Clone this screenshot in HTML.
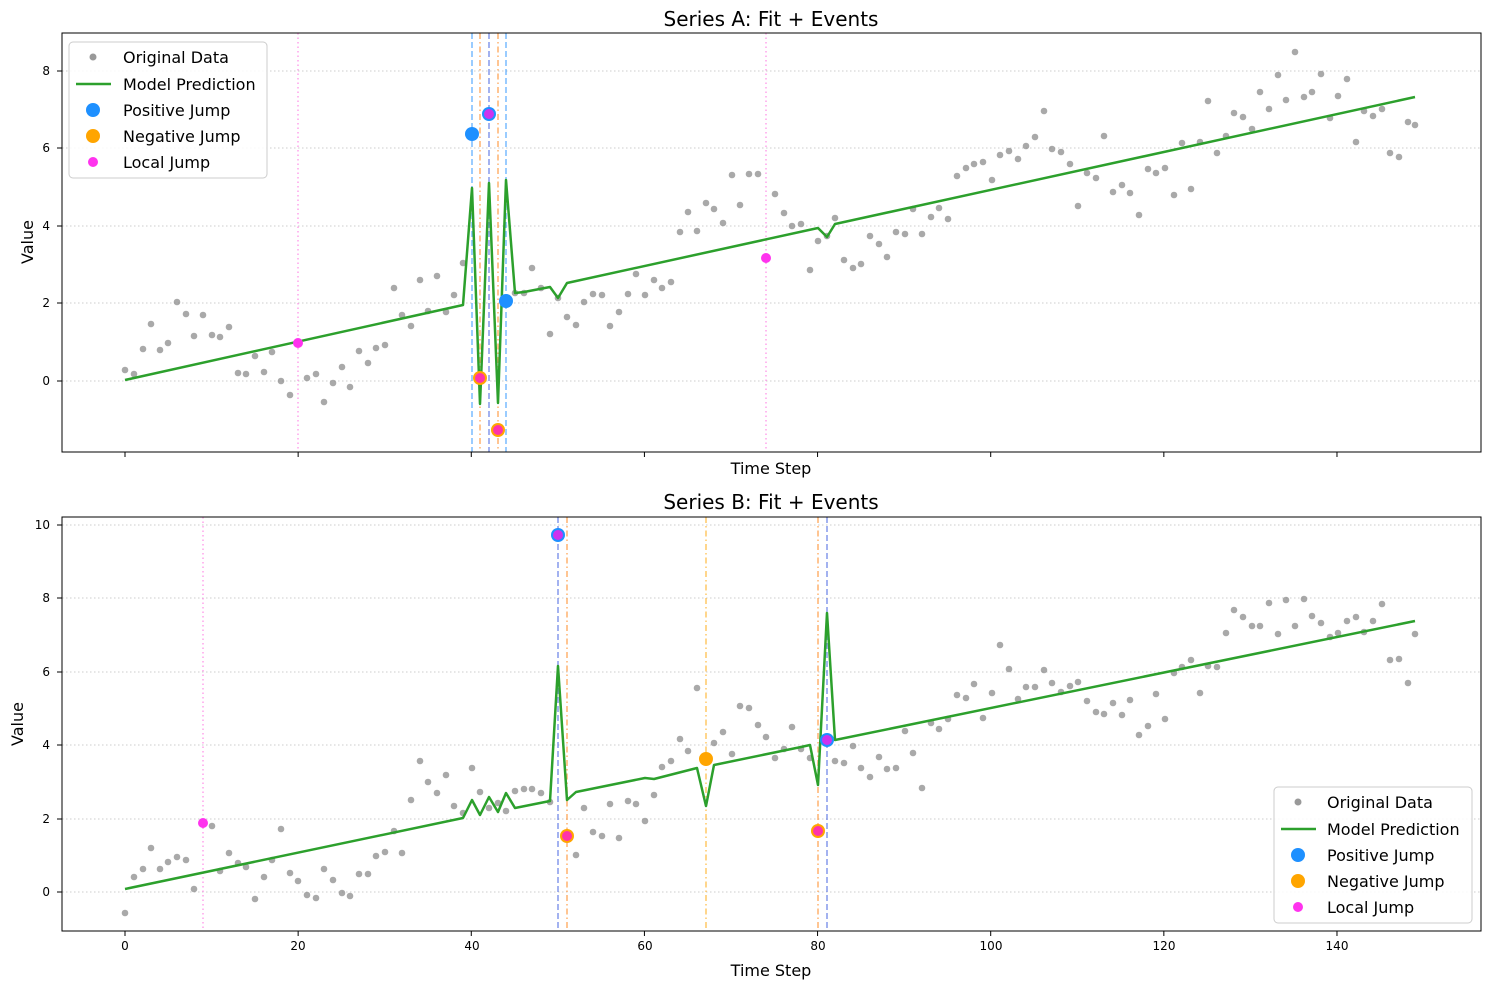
<!DOCTYPE html>
<html><head><meta charset="utf-8"><style>
body{margin:0;background:#fff;}
svg{display:block;font-family:"DejaVu Sans","Liberation Sans",sans-serif;}
</style></head><body>
<svg id="s" width="1489" height="989" viewBox="0 0 1489 989" xmlns="http://www.w3.org/2000/svg">
<rect width="1489" height="989" fill="#fff"/>
<g id="g1"></g>
<!-- titles & labels -->
<text x="771" y="26" font-size="20" text-anchor="middle">Series A: Fit + Events</text>
<text x="771" y="509" font-size="20" text-anchor="middle">Series B: Fit + Events</text>
<text x="771" y="474" font-size="16" text-anchor="middle">Time Step</text>
<text x="771" y="976" font-size="16" text-anchor="middle">Time Step</text>
<text transform="translate(33,242) rotate(-90)" font-size="16" text-anchor="middle">Value</text>
<text transform="translate(23,724) rotate(-90)" font-size="16" text-anchor="middle">Value</text>
<g font-size="12" text-anchor="end">
<text x="50" y="385">0</text><text x="50" y="307">2</text><text x="50" y="230">4</text><text x="50" y="152">6</text><text x="50" y="75">8</text>
<text x="50" y="896">0</text><text x="50" y="823">2</text><text x="50" y="749">4</text><text x="50" y="676">6</text><text x="50" y="602">8</text><text x="50" y="529">10</text>
</g>
<g font-size="12" text-anchor="middle">
<text x="125" y="950">0</text><text x="298" y="950">20</text><text x="472" y="950">40</text><text x="645" y="950">60</text><text x="818" y="950">80</text><text x="991" y="950">100</text><text x="1164" y="950">120</text><text x="1337" y="950">140</text>
</g>
<!-- legends -->
<g>
<rect x="69" y="42" width="198" height="136" rx="4" fill="#fff" fill-opacity="0.85" stroke="#ccc"/>
<circle cx="93" cy="57" r="3.5" fill="#999"/><text x="123" y="63" font-size="16">Original Data</text>
<line x1="76" y1="84" x2="111" y2="84" stroke="#2ca02c" stroke-width="2.5"/><text x="123" y="90" font-size="16">Model Prediction</text>
<circle cx="93" cy="110" r="7" fill="#1e90ff"/><text x="123" y="116" font-size="16">Positive Jump</text>
<circle cx="93" cy="136" r="7" fill="#ffa500"/><text x="123" y="142" font-size="16">Negative Jump</text>
<circle cx="93" cy="162" r="5" fill="#ff33ee"/><text x="123" y="168" font-size="16">Local Jump</text>
</g>
<g>
<rect x="1274" y="787" width="198" height="136" rx="4" fill="#fff" fill-opacity="0.85" stroke="#ccc"/>
<circle cx="1298" cy="802" r="3.5" fill="#999"/><text x="1327" y="808" font-size="16">Original Data</text>
<line x1="1281" y1="829" x2="1316" y2="829" stroke="#2ca02c" stroke-width="2.5"/><text x="1327" y="835" font-size="16">Model Prediction</text>
<circle cx="1298" cy="855" r="7" fill="#1e90ff"/><text x="1327" y="861" font-size="16">Positive Jump</text>
<circle cx="1298" cy="881" r="7" fill="#ffa500"/><text x="1327" y="887" font-size="16">Negative Jump</text>
<circle cx="1298" cy="907" r="5" fill="#ff33ee"/><text x="1327" y="913" font-size="16">Local Jump</text>
</g>
</svg>
<script>
var NS="http://www.w3.org/2000/svg",g=document.getElementById('g1');
function el(t,a){var e=document.createElementNS(NS,t);for(var k in a)e.setAttribute(k,a[k]);g.appendChild(e);return e;}
var X=function(t){return 125+8.657*t;};
// grids
[381,303,226,148,71].forEach(function(y){el('line',{x1:62,x2:1481,y1:y,y2:y,stroke:'#ccc','stroke-dasharray':'1.5,2.5','stroke-width':1});});
[892,819,745,672,598,525].forEach(function(y){el('line',{x1:62,x2:1481,y1:y,y2:y,stroke:'#ccc','stroke-dasharray':'1.5,2.5','stroke-width':1});});
// ticks
[0,20,40,60,80,100,120,140].forEach(function(t){var x=X(t);el('line',{x1:x,x2:x,y1:452,y2:457,stroke:'#000'});el('line',{x1:x,x2:x,y1:931,y2:936,stroke:'#000'});});
[381,303,226,148,71].forEach(function(y){el('line',{x1:57,x2:62,y1:y,y2:y,stroke:'#000'});});
[892,819,745,672,598,525].forEach(function(y){el('line',{x1:57,x2:62,y1:y,y2:y,stroke:'#000'});});
// vlines
function vl(x,y1,y2,c,d){el('line',{x1:x,x2:x,y1:y1,y2:y2,stroke:c,'stroke-dasharray':d,'stroke-width':1.5,'stroke-opacity':0.6});}
var DASH='6,3',DD='6,3,1.5,3',DOT='1.5,3';
vl(298,33,452,'#ff66dd',DOT);vl(766,33,452,'#ff66dd',DOT);
vl(472,33,452,'#1e90ff',DASH);vl(489,33,452,'#3355dd',DASH);vl(506,33,452,'#1e90ff',DASH);
vl(480,33,452,'#ff7f0e',DD);vl(498,33,452,'#ff7f0e',DD);
vl(203,517,931,'#ff66dd',DOT);vl(558,517,931,'#3355dd',DASH);vl(827,517,931,'#3355dd',DASH);
vl(567,517,931,'#ff7f0e',DD);vl(818,517,931,'#ff7f0e',DD);vl(706,517,931,'#ffa500',DD);
// dots
var A=[[125,370],[134,374],[143,349],[151,324],[160,350],[168,343],[177,302],[186,314],[194,336],[203,315],[212,335],[220,337],[229,327],[238,373],[246,374],[255,356],[264,372],[272,352],[281,381],[290,395],[307,378],[316,374],[324,402],[333,383],[342,367],[350,387],[359,351],[368,363],[376,348],[385,345],[394,288],[402,315],[411,326],[420,280],[428,311],[437,276],[446,312],[454,295],[463,263],[515,293],[524,293],[532,268],[541,288],[550,334],[558,298],[567,317],[576,325],[584,302],[593,294],[602,295],[610,326],[619,312],[628,294],[636,274],[645,295],[654,280],[662,288],[671,282],[680,232],[688,212],[697,231],[706,203],[714,209],[723,223],[732,175],[740,205],[749,174],[758,174],[775,194],[784,213],[792,226],[801,224],[810,270],[818,241],[827,236],[835,218],[844,260],[853,268],[861,264],[870,236],[879,244],[887,257],[896,232],[905,234],[913,209],[922,234],[931,217],[939,208],[948,219],[957,176],[966,168],[974,164],[983,162],[992,180],[1000,155],[1009,151],[1018,159],[1026,146],[1035,137],[1044,111],[1052,149],[1061,152],[1070,164],[1078,206],[1087,173],[1096,178],[1104,136],[1113,192],[1122,185],[1130,193],[1139,215],[1148,169],[1156,173],[1165,168],[1174,195],[1182,143],[1191,189],[1200,142],[1208,101],[1217,153],[1226,136],[1234,113],[1243,117],[1252,129],[1260,92],[1269,109],[1278,75],[1286,100],[1295,52],[1304,97],[1312,92],[1321,74],[1330,118],[1338,96],[1347,79],[1356,142],[1364,111],[1373,116],[1382,109],[1390,153],[1399,157],[1408,122],[1415,125]];
var B=[[125,913],[134,877],[143,869],[151,848],[160,869],[168,862],[177,857],[186,860],[194,889],[212,826],[220,871],[229,853],[238,863],[246,867],[255,899],[264,877],[272,860],[281,829],[290,873],[298,881],[307,895],[316,898],[324,869],[333,880],[342,893],[350,896],[359,874],[368,874],[376,856],[385,852],[394,831],[402,853],[411,800],[420,761],[428,782],[437,793],[446,775],[454,806],[463,813],[472,768],[480,792],[489,808],[498,803],[506,811],[515,791],[524,789],[532,789],[541,793],[550,802],[576,855],[584,808],[593,832],[602,836],[610,804],[619,838],[628,801],[636,804],[645,821],[654,795],[662,767],[671,761],[680,739],[688,751],[697,688],[714,743],[723,732],[732,754],[740,706],[749,708],[758,725],[766,737],[775,758],[784,749],[792,727],[801,749],[810,758],[835,761],[844,763],[853,746],[861,768],[870,777],[879,757],[887,769],[896,768],[905,731],[913,753],[922,788],[931,723],[939,729],[948,719],[957,695],[966,698],[974,684],[983,718],[992,693],[1000,645],[1009,669],[1018,699],[1026,687],[1035,687],[1044,670],[1052,683],[1061,692],[1070,686],[1078,682],[1087,701],[1096,712],[1104,714],[1113,703],[1122,715],[1130,700],[1139,735],[1148,726],[1156,694],[1165,719],[1174,673],[1182,667],[1191,660],[1200,693],[1208,666],[1217,667],[1226,633],[1234,610],[1243,617],[1252,626],[1260,626],[1269,603],[1278,634],[1286,600],[1295,626],[1304,599],[1312,616],[1321,623],[1330,637],[1338,633],[1347,621],[1356,617],[1364,632],[1373,621],[1382,604],[1390,660],[1399,659],[1408,683],[1415,634]];
A.concat(B).forEach(function(p){el('circle',{cx:p[0],cy:p[1],r:3.3,fill:'#8c8c8c','fill-opacity':0.75});});
// lines
function pl(pts){el('polyline',{points:pts.map(function(p){return p.join(',')}).join(' '),fill:'none',stroke:'#2ca02c','stroke-width':2.5,'stroke-linejoin':'round'});}
pl([[125,380],[463,305],[472,188],[480,404],[489,183],[498,403],[506,180],[515,293],[524,292],[550,287],[558,298],[567,283],[818,228],[827,237],[835,224],[1415,97]]);
pl([[125,889],[463,818],[472,800],[480,815],[489,797],[498,812],[506,793],[515,808],[550,801],[558,666],[567,800],[576,792],[645,778],[654,779],[697,768],[706,806],[714,765],[801,747],[810,745],[818,785],[827,613],[835,740],[1415,621]]);
// markers
function mk(x,y,c,r){el('circle',{cx:x,cy:y,r:r,fill:c});}
mk(472,134,'#1e90ff',7);mk(506,301,'#1e90ff',7);mk(489,114,'#1e90ff',7);mk(489,114,'#cc33ee',5);
mk(480,378,'#ffa500',7);mk(480,378,'#ff33aa',5);mk(498,430,'#ffa500',7);mk(498,430,'#ff33aa',5);
mk(298,343,'#ff33ee',5);mk(766,258,'#ff33ee',5);
mk(558,535,'#1e90ff',7);mk(558,535,'#cc33ee',5);mk(567,836,'#ffa500',7);mk(567,836,'#ff33aa',5);
mk(706,759,'#ffa500',7);mk(818,831,'#ffa500',7);mk(818,831,'#ff33aa',5);mk(827,740,'#1e90ff',7);mk(827,740,'#cc33ee',5);
mk(203,823,'#ff33ee',5);
// frames
el('rect',{x:62,y:33,width:1419,height:419,fill:'none',stroke:'#000','stroke-width':1});
el('rect',{x:62,y:517,width:1419,height:414,fill:'none',stroke:'#000','stroke-width':1});
</script>
</body></html>
